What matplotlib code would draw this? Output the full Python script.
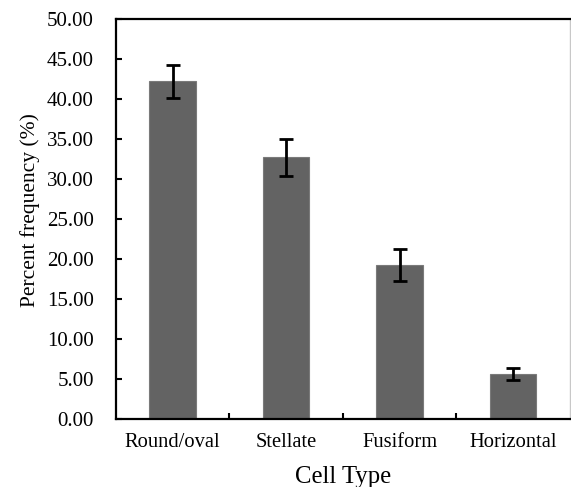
import matplotlib.pyplot as plt
from matplotlib.ticker import FormatStrFormatter, FixedLocator

categories = ["Round/oval", "Stellate", "Fusiform", "Horizontal"]
freq = [42.2, 32.7, 19.2, 5.6]
err = [2.1, 2.3, 2.0, 0.7]

plt.rcParams['font.family'] = ['Liberation Serif', 'DejaVu Serif']

fig = plt.figure(figsize=(5.71, 4.87), dpi=100)
ax = fig.add_axes([0.203, 0.140, 0.795, 0.821])

x = range(len(categories))
ax.bar(x, freq, width=0.41, color='#636363', edgecolor='#7a7a7a', linewidth=0.8, zorder=2)
ax.errorbar(x, freq, yerr=err, fmt='none', ecolor='black', elinewidth=2,
            capsize=5, capthick=2, zorder=3)

ax.set_xlim(-0.5, 3.5)
ax.set_ylim(0, 50)
ax.set_yticks(range(0, 51, 5))
ax.yaxis.set_major_formatter(FormatStrFormatter('%.2f'))
ax.set_xticks(list(x))
ax.set_xticklabels(categories)
ax.xaxis.set_minor_locator(FixedLocator([0.5, 1.5, 2.5]))

ax.tick_params(axis='y', direction='in', length=4, width=1.5, labelsize=15, pad=16)
ax.tick_params(axis='x', which='major', length=0, labelsize=14.8, pad=10)
ax.tick_params(axis='x', which='minor', direction='in', length=4, width=1.5)

for s in ['left', 'bottom', 'top']:
    ax.spines[s].set_linewidth(1.6)
    ax.spines[s].set_color('black')
ax.spines['right'].set_color('#c8c8c8')
ax.spines['right'].set_linewidth(1)

ax.set_ylabel("Percent frequency (%)", fontsize=15.5, labelpad=5)
ax.yaxis.label.set_y(0.522)
ax.set_xlabel("Cell Type", fontsize=17.8, labelpad=10)

fig.savefig("out.png", dpi=100)
